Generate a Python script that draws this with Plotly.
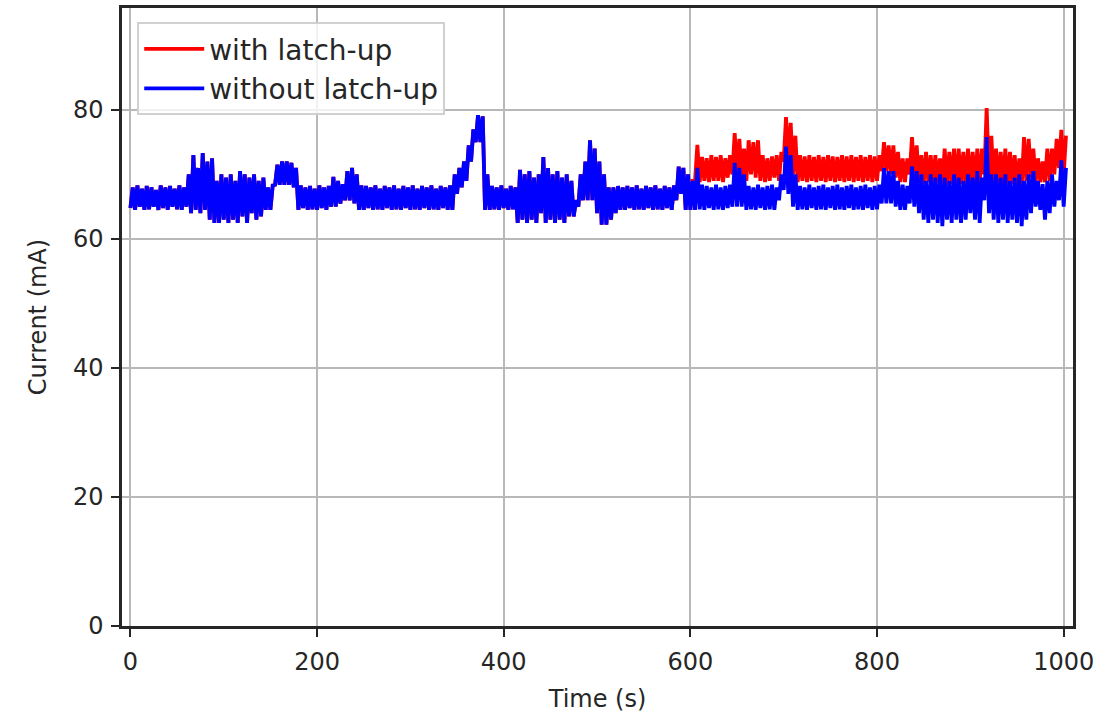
import plotly.graph_objects as go

# 5 s bins, t = 0..1000 s; for each bin the low and high reading (mA)
bin_start_s = [i * 5 for i in range(201)]

without_lo = [
    # 0-55
    64.8, 64.5, 65.0, 64.5, 64.6, 65.0, 64.5, 64.8, 64.5, 65.0, 64.6, 64.5,
    # 60-90
    65.0, 64.0, 64.5, 64.0, 64.5, 63.0, 62.5,
    # 95-150
    62.5, 63.0, 62.5, 63.0, 62.5, 63.5, 62.5, 64.0, 63.0, 63.5, 64.5, 64.5,
    # 155-175
    68.4, 68.4, 68.4, 68.4, 68.0,
    # 180-210
    64.5, 64.8, 64.5, 64.6, 64.5, 64.8, 64.5,
    # 215-245
    65.0, 65.0, 65.5, 66.0, 66.0, 65.5, 64.5,
    # 250-340
    64.5, 64.8, 64.5, 64.6, 64.5, 64.8, 64.5, 64.6, 64.5, 64.8, 64.5, 64.6, 64.5, 64.8, 64.5, 64.6, 64.5, 64.8, 64.5,
    # 345-380
    64.5, 67.0, 68.0, 69.0, 72.0, 75.0, 75.0, 64.5,
    # 385-410
    64.5, 64.6, 64.5, 64.8, 64.5, 64.6,
    # 415-470
    62.5, 63.0, 62.5, 63.0, 62.5, 64.0, 62.5, 63.0, 62.5, 63.0, 62.5, 63.5,
    # 475-525
    63.5, 65.0, 66.0, 66.0, 66.0, 64.0, 62.2, 62.2, 63.0, 64.0, 64.5,
    # 530-580
    64.5, 64.8, 64.5, 64.6, 64.5, 64.8, 64.5, 64.6, 64.5, 64.8, 64.5,
    # 585-600
    66.0, 67.0, 64.5, 64.5,
    # 605-700
    64.5, 64.6, 64.5, 64.8, 64.5, 64.6, 64.5, 64.8, 65.0, 65.0, 65.0, 64.5, 64.6, 64.5, 64.8, 64.5, 64.6, 64.5, 66.0, 67.6,
    # 705-800
    67.0, 65.0, 64.5, 64.6, 64.5, 64.8, 64.5, 64.6, 64.5, 64.8, 64.5, 64.6, 64.5, 64.8, 64.5, 64.6, 64.5, 64.8, 64.5, 64.6,
    # 805-900
    65.5, 65.5, 65.5, 65.0, 64.5, 64.5, 65.5, 65.0, 64.0, 63.0, 62.5, 63.0, 62.5, 62.0, 63.0, 62.5, 63.0, 62.5, 63.0, 64.0,
    # 905-1000
    63.0, 62.5, 66.0, 64.0, 63.0, 62.5, 63.0, 62.5, 63.0, 62.5, 62.0, 63.0, 64.0, 65.0, 64.5, 63.0, 64.0, 65.0, 66.0, 65.0,
]
without_hi = [
    # 0-55
    68.0, 68.3, 67.8, 68.2, 68.0, 67.6, 68.3, 68.0, 68.2, 67.8, 68.3, 68.0,
    # 60-90
    70.0, 73.0, 71.0, 73.3, 72.0, 72.5, 69.0,
    # 95-150
    70.0, 69.5, 70.0, 69.0, 70.5, 70.0, 69.5, 70.0, 69.0, 69.5, 68.0, 68.3,
    # 155-175
    71.5, 72.0, 72.0, 71.8, 71.0,
    # 180-210
    68.3, 68.0, 68.2, 67.8, 68.3, 68.0, 68.2,
    # 215-245
    69.6, 69.0, 68.5, 70.5, 71.0, 70.0, 68.3,
    # 250-340
    68.2, 68.0, 68.3, 67.8, 68.2, 68.0, 68.3, 67.8, 68.2, 68.0, 68.3, 67.8, 68.2, 68.0, 68.3, 67.8, 68.2, 68.0, 68.3,
    # 345-380
    70.0, 71.0, 72.0, 74.5, 77.0, 79.2, 79.0, 70.0,
    # 385-410
    68.2, 68.0, 68.3, 67.8, 68.2, 68.0,
    # 415-470
    70.7, 70.0, 70.5, 69.5, 70.0, 72.7, 71.0, 70.0, 70.5, 69.5, 70.0, 69.0,
    # 475-525
    66.0, 70.0, 72.0, 75.3, 74.0, 72.0, 70.0, 68.0, 68.0, 68.2, 68.0,
    # 530-580
    68.2, 68.0, 68.3, 67.8, 68.2, 68.0, 68.3, 67.8, 68.2, 68.0, 68.3,
    # 585-600
    71.2, 71.0, 70.0, 69.0,
    # 605-700
    71.0, 68.4, 68.2, 68.0, 68.4, 68.0, 68.2, 68.4, 71.8, 71.0, 70.0, 68.2, 68.0, 68.4, 68.0, 68.2, 68.4, 68.0, 70.0, 74.3,
    # 705-800
    73.0, 70.0, 68.2, 68.0, 68.4, 68.0, 68.2, 68.4, 68.0, 68.2, 68.4, 68.0, 68.2, 68.4, 68.0, 68.2, 68.4, 68.0, 68.2, 68.4,
    # 805-900
    71.0, 70.5, 70.5, 69.0, 68.4, 68.2, 71.2, 70.5, 70.0, 69.0, 70.0, 69.5, 70.0, 69.5, 69.0, 70.0, 69.5, 69.0, 70.0, 69.5,
    # 905-1000
    70.5, 69.5, 75.8, 70.0, 70.0, 69.5, 70.0, 69.0, 69.5, 70.0, 69.0, 70.0, 70.5, 69.0, 68.5, 69.0, 70.0, 69.0, 72.2, 71.0,
]

# with latch-up: identical to the other run up to 600 s, then these bins (605..1000 s)
with_late_lo = [
    # 605-700
    69.0, 68.8, 69.0, 68.8, 69.0, 69.0, 68.8, 69.5, 70.0, 70.0, 69.5, 69.0, 70.0, 69.5, 69.0, 68.8, 69.0, 69.5, 69.0, 72.0,
    # 705-800
    72.0, 70.0, 68.8, 69.0, 68.8, 69.0, 68.8, 69.0, 68.8, 69.0, 68.8, 69.0, 68.8, 69.0, 68.8, 69.0, 68.8, 69.0, 68.8, 69.0,
    # 805-900
    70.5, 70.5, 70.0, 69.5, 68.8, 68.8, 70.0, 69.5, 68.5, 68.5, 68.8, 68.5, 68.8, 68.5, 68.4, 68.5, 68.4, 68.5, 68.4, 68.5,
    # 905-1000
    68.5, 68.4, 70.0, 69.0, 68.5, 68.5, 68.5, 68.4, 68.5, 68.0, 68.0, 69.0, 69.5, 68.8, 68.8, 68.8, 69.0, 70.0, 71.0, 70.0,
]
with_late_hi = [
    # 605-700
    74.6, 72.7, 72.5, 73.0, 72.7, 73.0, 72.5, 73.0, 76.4, 75.5, 74.0, 75.3, 75.0, 75.3, 73.0, 72.5, 72.8, 73.0, 73.5, 78.9,
    # 705-800
    78.0, 76.0, 73.0, 72.8, 73.0, 72.7, 73.0, 72.7, 73.0, 72.8, 72.7, 73.0, 72.8, 73.0, 72.7, 73.0, 72.7, 73.0, 72.8, 73.0,
    # 805-900
    75.0, 74.5, 74.5, 73.5, 72.5, 72.5, 75.8, 74.5, 73.0, 73.5, 73.0, 73.0, 72.5, 74.0, 73.5, 74.0, 74.0, 73.5, 74.0, 73.5,
    # 905-1000
    74.0, 74.0, 80.3, 76.0, 74.0, 73.5, 74.0, 73.5, 73.0, 72.5, 75.8, 75.5, 74.0, 72.5, 72.0, 74.0, 74.0, 75.5, 76.9, 76.0,
]

with_lo = without_lo[:121] + with_late_lo
with_hi = without_hi[:121] + with_late_hi

series_names = ["with latch-up", "without latch-up"]
series_colors = ["#ff0000", "#0000ff"]
x_ticks = [0, 200, 400, 600, 800, 1000]
y_ticks = [0, 20, 40, 60, 80]


def interleave(t_bins, lo, hi):
    xs, ys = [], []
    for t, a, b in zip(t_bins, lo, hi):
        xs += [t, t + 2.5]
        ys += [a, b]
    return xs, ys


fig = go.Figure()
for name, color, lo, hi in [(series_names[0], series_colors[0], with_lo, with_hi),
                            (series_names[1], series_colors[1], without_lo, without_hi)]:
    xs, ys = interleave(bin_start_s, lo, hi)
    fig.add_trace(go.Scatter(x=xs, y=ys, mode="lines", name=name,
                             line=dict(color=color, width=3.8)))

tick_font = dict(family="DejaVu Sans", size=24, color="#262626")
title_font = dict(family="DejaVu Sans", size=24, color="#262626")
fig.update_layout(
    width=1115, height=717,
    margin=dict(l=122, r=42, t=8, b=91),
    paper_bgcolor="white", plot_bgcolor="white",
    font=tick_font,
    showlegend=True,
    legend=dict(x=0.016, y=0.977, xanchor="left", yanchor="top",
                bgcolor="rgba(255,255,255,0.8)", bordercolor="#d0d0d0", borderwidth=2,
                font=dict(family="DejaVu Sans", size=28, color="#262626"),
                tracegroupgap=0, itemwidth=60),
)
fig.update_xaxes(range=[-9, 1010], tickvals=x_ticks, ticks="outside", ticklen=8, tickwidth=2,
                 tickcolor="#262626", showline=True, linecolor="#262626", linewidth=2.5, mirror=True,
                 showgrid=True, gridcolor="#b8b8b8", gridwidth=2, zeroline=False, automargin=False,
                 ticklabelstandoff=4,
                 title=dict(text="Time (s)", standoff=16, font=title_font), tickfont=tick_font)
fig.update_yaxes(range=[0, 95.8], tickvals=y_ticks, ticks="outside", ticklen=8, tickwidth=2,
                 tickcolor="#262626", showline=True, linecolor="#262626", linewidth=2.5, mirror=True,
                 showgrid=True, gridcolor="#b8b8b8", gridwidth=2, zeroline=False, automargin=False,
                 ticklabelstandoff=3,
                 title=dict(text="Current (mA)", standoff=20, font=title_font), tickfont=tick_font)

fig.write_html("out.html", config={"displayModeBar": False},
               post_script="document.body.style.margin='0';")
